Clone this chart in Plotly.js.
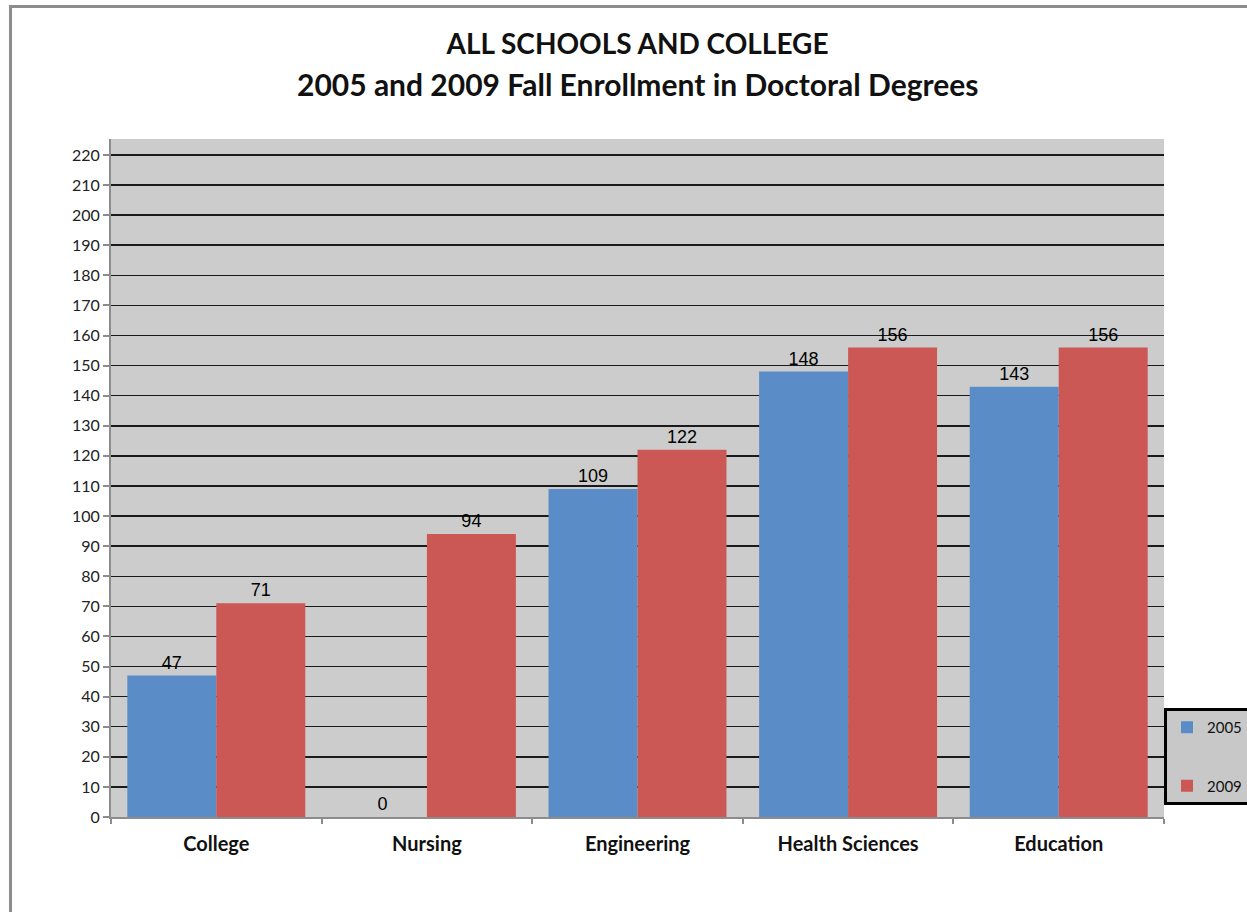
<!DOCTYPE html>
<html>
<head>
<meta charset="utf-8">
<script src="https://cdn.plot.ly/plotly-3.0.1.min.js"></script>
<style>
  html, body { margin: 0; padding: 0; background: #fff; overflow: hidden; }
  #chart { position: absolute; left: 0; top: 0; width: 1247px; height: 912px; }
  #frame { position: absolute; left: 9px; top: 5px; width: 1300px; height: 1000px;
           border: 3px solid #8c8c8c; pointer-events: none; box-sizing: border-box; }
</style>
</head>
<body>
<div id="chart"></div>
<div id="frame"></div>
<script>
const categories = ["College", "Nursing", "Engineering", "Health Sciences", "Education"];
const values2005 = [47, 0, 109, 148, 143];
const values2009 = [71, 94, 122, 156, 156];
const seriesNames = ["2005", "2009"];

const labelFont = { family: "Liberation Sans, Arial, sans-serif", size: 18, color: "#000" };

const traces = [
  {
    type: "bar", name: seriesNames[0], x: categories, y: values2005,
    marker: { color: "#5a8cc8" },
    text: values2005.map(String), textposition: "outside", textfont: labelFont,
    cliponaxis: false, legendgroup: "a"
  },
  {
    type: "bar", name: seriesNames[1], x: categories, y: values2009,
    marker: { color: "#cb5855" },
    text: values2009.map(String), textposition: "outside", textfont: labelFont,
    cliponaxis: false, legendgroup: "b"
  }
];

const layout = {
  width: 1247, height: 912,
  margin: { l: 111, r: 83, t: 139, b: 95, autoexpand: false },
  paper_bgcolor: "#ffffff",
  plot_bgcolor: "#cccccc",
  barmode: "group",
  bargap: 0.155,
  bargroupgap: 0,
  font: { family: "Lato, Open Sans, sans-serif", color: "#222" },
  title: {
    text: "ALL SCHOOLS AND COLLEGE",
    font: { family: "Lato, Open Sans, sans-serif", size: 28, color: "#111", weight: "bold" },
    x: 0.5, xref: "paper", xanchor: "center",
    y: 1 - 44 / 912, yref: "container", yanchor: "middle"
  },
  annotations: [{
    text: "2005 and 2009 Fall Enrollment in Doctoral Degrees",
    font: { family: "Lato, Open Sans, sans-serif", size: 30, color: "#111", weight: "bold" },
    x: 0.5, xref: "paper", xanchor: "center",
    y: (817 - 84) / 678, yref: "paper", yanchor: "middle",
    showarrow: false
  }],
  xaxis: {
    type: "category",
    showline: true, linecolor: "#8c8c8c", linewidth: 2,
    ticks: "outside", tickson: "boundaries", ticklen: 5, tickcolor: "#8c8c8c", tickwidth: 2,
    showgrid: false,
    ticklabelstandoff: 8,
    tickfont: { family: "Lato, Open Sans, sans-serif", size: 20, color: "#111", weight: "bold" }
  },
  yaxis: {
    range: [0, 225.3],
    dtick: 10, tick0: 0,
    showline: true, linecolor: "#8c8c8c", linewidth: 2,
    ticks: "outside", ticklen: 6, tickcolor: "#8c8c8c", tickwidth: 2,
    showgrid: true, gridcolor: "#1a1a1a", gridwidth: 1.5,
    zeroline: false,
    tickfont: { family: "Lato, Open Sans, sans-serif", size: 16, color: "#222" }
  },
  showlegend: true,
  legend: {
    x: (1164 - 111) / 1053, xanchor: "left", xref: "paper",
    y: (817 - 708) / 678, yanchor: "top", yref: "paper",
    bgcolor: "#c8c8c8", bordercolor: "#000", borderwidth: 3,
    font: { family: "Lato, Open Sans, sans-serif", size: 15, color: "#111" },
    traceorder: "grouped", tracegroupgap: 36,
    itemwidth: 30
  }
};

Plotly.newPlot("chart", traces, layout, { displayModeBar: false, staticPlot: true });
</script>
</body>
</html>
